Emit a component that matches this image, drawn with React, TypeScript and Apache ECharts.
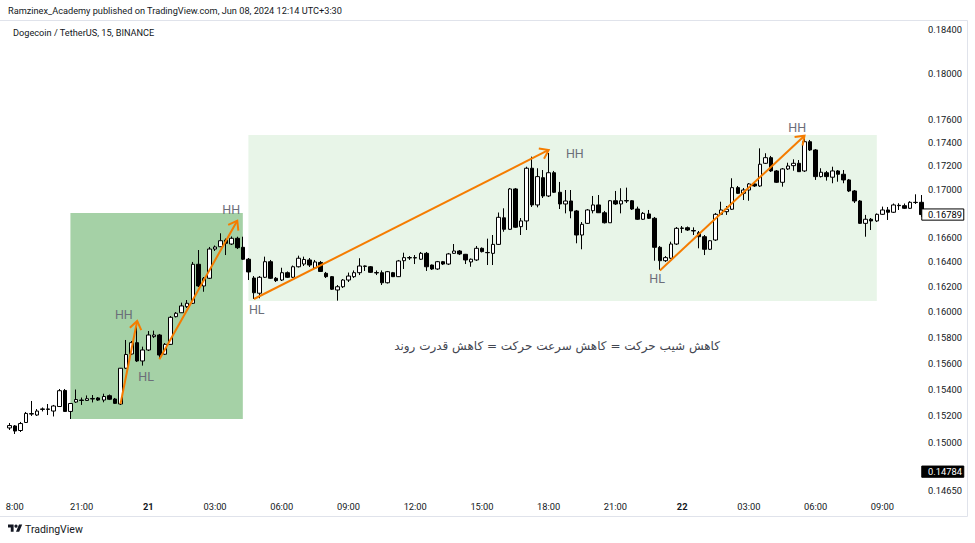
import React, { useEffect, useRef } from "react";
import * as echarts from "echarts";

// ---- data (15m DOGE/USDT candles: open, close, low, high) ----
const candles: number[][] = [
  [0.15107, 0.15125, 0.15092, 0.15144],
  [0.15122, 0.15084, 0.15062, 0.15129],
  [0.15088, 0.1514, 0.15077, 0.15152],
  [0.15148, 0.15216, 0.15144, 0.15227],
  [0.15211, 0.15215, 0.15197, 0.1531],
  [0.15204, 0.15234, 0.15197, 0.15249],
  [0.15246, 0.1525, 0.15231, 0.15261],
  [0.15246, 0.1525, 0.15204, 0.15287],
  [0.15234, 0.15272, 0.15193, 0.1528],
  [0.15268, 0.15388, 0.15265, 0.15401],
  [0.1539, 0.15231, 0.15227, 0.15401],
  [0.15231, 0.15291, 0.15174, 0.15295],
  [0.15302, 0.15321, 0.15295, 0.15397],
  [0.15317, 0.15314, 0.1528, 0.15336],
  [0.15314, 0.15327, 0.1531, 0.15352],
  [0.15325, 0.15329, 0.15299, 0.15355],
  [0.15333, 0.15317, 0.1531, 0.1534],
  [0.15317, 0.15344, 0.153, 0.15365],
  [0.1535, 0.15323, 0.15317, 0.15359],
  [0.15325, 0.15292, 0.15287, 0.15333],
  [0.15287, 0.1556, 0.1528, 0.15562],
  [0.1556, 0.15666, 0.15554, 0.15779],
  [0.1567, 0.15758, 0.15662, 0.15771],
  [0.15758, 0.15616, 0.15608, 0.15915],
  [0.15616, 0.15701, 0.1558, 0.15727],
  [0.15701, 0.15818, 0.15693, 0.15849],
  [0.15805, 0.15818, 0.15794, 0.15852],
  [0.15818, 0.15662, 0.15631, 0.15826],
  [0.15668, 0.15745, 0.15662, 0.15755],
  [0.15745, 0.15957, 0.1574, 0.15967],
  [0.15962, 0.15989, 0.15956, 0.15999],
  [0.15993, 0.16047, 0.15991, 0.16073],
  [0.16041, 0.16068, 0.16031, 0.16094],
  [0.16068, 0.16381, 0.16063, 0.164],
  [0.16381, 0.16206, 0.16198, 0.16497],
  [0.16206, 0.16268, 0.1616, 0.16278],
  [0.16268, 0.16505, 0.16262, 0.16522],
  [0.16505, 0.16522, 0.16489, 0.16534],
  [0.16524, 0.16573, 0.16522, 0.16634],
  [0.16579, 0.16552, 0.16456, 0.16591],
  [0.16546, 0.16593, 0.16538, 0.16608],
  [0.16593, 0.16516, 0.16505, 0.16606],
  [0.16519, 0.16422, 0.16416, 0.16606],
  [0.16422, 0.16319, 0.16254, 0.16432],
  [0.1627, 0.16152, 0.16102, 0.16286],
  [0.16148, 0.16276, 0.16108, 0.16286],
  [0.16276, 0.16402, 0.1627, 0.16443],
  [0.16402, 0.16268, 0.16262, 0.16416],
  [0.16268, 0.16249, 0.16238, 0.16278],
  [0.16254, 0.16313, 0.16246, 0.16353],
  [0.16313, 0.16276, 0.1627, 0.16323],
  [0.16276, 0.16361, 0.1627, 0.16371],
  [0.16361, 0.1643, 0.16355, 0.16451],
  [0.16383, 0.1642, 0.16367, 0.16443],
  [0.16416, 0.16375, 0.16359, 0.16432],
  [0.16351, 0.164, 0.16343, 0.16416],
  [0.16396, 0.16323, 0.16319, 0.16408],
  [0.16308, 0.16281, 0.1627, 0.16319],
  [0.16281, 0.1618, 0.16174, 0.16286],
  [0.16174, 0.162, 0.16089, 0.16214],
  [0.162, 0.16254, 0.1619, 0.16262],
  [0.16254, 0.16286, 0.16238, 0.16314],
  [0.16281, 0.16313, 0.1627, 0.16331],
  [0.16313, 0.16367, 0.16294, 0.1643],
  [0.16364, 0.16367, 0.16327, 0.16371],
  [0.16361, 0.16316, 0.16311, 0.16367],
  [0.16314, 0.16311, 0.16294, 0.16331],
  [0.16313, 0.16232, 0.16214, 0.16331],
  [0.16232, 0.16321, 0.16226, 0.16327],
  [0.16313, 0.16281, 0.16278, 0.16319],
  [0.16281, 0.16408, 0.16278, 0.16416],
  [0.1641, 0.16435, 0.16343, 0.16475],
  [0.16432, 0.16436, 0.16416, 0.16448],
  [0.16435, 0.16432, 0.16383, 0.16456],
  [0.16422, 0.1647, 0.16416, 0.16481],
  [0.1647, 0.16361, 0.16327, 0.16481],
  [0.16375, 0.16343, 0.16335, 0.16379],
  [0.16343, 0.16402, 0.16335, 0.16408],
  [0.16402, 0.16383, 0.16375, 0.16408],
  [0.16383, 0.16465, 0.16375, 0.16473],
  [0.1647, 0.16489, 0.16465, 0.16546],
  [0.16489, 0.16465, 0.16456, 0.16497],
  [0.16462, 0.16416, 0.16383, 0.16465],
  [0.164, 0.16422, 0.16361, 0.16428],
  [0.16416, 0.16511, 0.16408, 0.1653],
  [0.16511, 0.16484, 0.16477, 0.16518],
  [0.16477, 0.16475, 0.16375, 0.1659],
  [0.1647, 0.16543, 0.16375, 0.1662],
  [0.16543, 0.16766, 0.16538, 0.16806],
  [0.16762, 0.16667, 0.16647, 0.16841],
  [0.16667, 0.17003, 0.16661, 0.17011],
  [0.17003, 0.16684, 0.16678, 0.17011],
  [0.16689, 0.16736, 0.1662, 0.1676],
  [0.16736, 0.17178, 0.16661, 0.17191],
  [0.17178, 0.16869, 0.16852, 0.17277],
  [0.16869, 0.17107, 0.16849, 0.17178],
  [0.17098, 0.16944, 0.16927, 0.17163],
  [0.16944, 0.1714, 0.16935, 0.17308],
  [0.1714, 0.16975, 0.16969, 0.17155],
  [0.16975, 0.16877, 0.16835, 0.17062],
  [0.16877, 0.16902, 0.16799, 0.16994],
  [0.16902, 0.16819, 0.16758, 0.16994],
  [0.16819, 0.1662, 0.16552, 0.16827],
  [0.1662, 0.16708, 0.16503, 0.16727],
  [0.16716, 0.16827, 0.16711, 0.16835],
  [0.16821, 0.16869, 0.16799, 0.16944],
  [0.16869, 0.16804, 0.16802, 0.16952],
  [0.16804, 0.16721, 0.16715, 0.16819],
  [0.16721, 0.16904, 0.16719, 0.1691],
  [0.16904, 0.16877, 0.16869, 0.16986],
  [0.16877, 0.16904, 0.16799, 0.17009],
  [0.16902, 0.16906, 0.16885, 0.17014],
  [0.16904, 0.16835, 0.16827, 0.1691],
  [0.16835, 0.1675, 0.16744, 0.16855],
  [0.1675, 0.16799, 0.16744, 0.1681],
  [0.16794, 0.16758, 0.16752, 0.16827],
  [0.16758, 0.16519, 0.1641, 0.16769],
  [0.16519, 0.1641, 0.16335, 0.1653],
  [0.1641, 0.16435, 0.164, 0.16448],
  [0.1643, 0.16546, 0.16424, 0.16565],
  [0.16546, 0.16675, 0.16538, 0.16686],
  [0.16674, 0.16678, 0.16637, 0.16694],
  [0.1668, 0.16661, 0.16653, 0.1669],
  [0.16657, 0.16653, 0.1662, 0.16683],
  [0.16639, 0.16606, 0.16511, 0.16653],
  [0.16606, 0.16503, 0.16456, 0.1662],
  [0.16503, 0.16573, 0.16497, 0.16579],
  [0.16579, 0.16791, 0.16571, 0.16802],
  [0.16791, 0.16827, 0.16786, 0.16896],
  [0.16813, 0.16833, 0.16786, 0.1686],
  [0.16833, 0.17014, 0.16827, 0.17093],
  [0.17014, 0.16966, 0.16961, 0.17028],
  [0.16966, 0.16994, 0.1691, 0.17011],
  [0.16994, 0.17045, 0.16904, 0.17053],
  [0.17045, 0.17028, 0.1702, 0.17053],
  [0.17028, 0.17212, 0.1702, 0.17348],
  [0.1722, 0.17268, 0.17214, 0.17306],
  [0.17268, 0.17155, 0.17146, 0.17283],
  [0.17155, 0.17059, 0.17053, 0.17163],
  [0.17059, 0.17172, 0.17022, 0.1718],
  [0.17172, 0.17197, 0.17163, 0.17225],
  [0.172, 0.1722, 0.17157, 0.17254],
  [0.1722, 0.17149, 0.17146, 0.17248],
  [0.17155, 0.17405, 0.17146, 0.17446],
  [0.17405, 0.17334, 0.17325, 0.1742],
  [0.17334, 0.17107, 0.17079, 0.17342],
  [0.17107, 0.17144, 0.171, 0.17178],
  [0.1714, 0.17107, 0.17073, 0.17155],
  [0.17102, 0.17155, 0.17051, 0.17191],
  [0.17155, 0.17127, 0.17064, 0.17163],
  [0.17127, 0.17079, 0.17051, 0.17163],
  [0.17079, 0.16986, 0.16977, 0.17087],
  [0.16986, 0.16902, 0.16885, 0.16994],
  [0.16902, 0.16716, 0.16711, 0.1691],
  [0.16716, 0.1675, 0.16606, 0.16786],
  [0.1675, 0.16736, 0.16661, 0.1676],
  [0.16736, 0.16791, 0.16727, 0.16798],
  [0.16791, 0.16827, 0.16786, 0.16855],
  [0.16827, 0.16808, 0.16744, 0.16852],
  [0.16808, 0.16869, 0.16802, 0.16881],
  [0.16866, 0.16863, 0.16827, 0.16883],
  [0.16863, 0.16841, 0.16835, 0.16881],
  [0.16841, 0.16891, 0.16835, 0.169],
  [0.16891, 0.16889, 0.16877, 0.16958],
  [0.16891, 0.16789, 0.16769, 0.16952],
];

// time axis: bar index -> label
const timeTicks = [1, 13, 25, 37, 49, 61, 73, 85, 97, 109, 121, 133, 145, 157];
const timeLabels = ["8:00", "21:00", "21", "03:00", "06:00", "09:00", "12:00", "15:00", "18:00", "21:00", "22", "03:00", "06:00", "09:00"];
const dayLabels = ["21", "22"];

// price scale (0.148 and 0.168 sit hidden under the price tags in the reference)
const priceTicks = [0.1465, 0.15, 0.152, 0.154, 0.156, 0.158, 0.16, 0.162, 0.164, 0.166, 0.17, 0.172, 0.174, 0.176, 0.18, 0.184];
const priceTags = [0.16789, 0.14784];
const priceRange = [0.14607, 0.18485];

// drawings: [barFrom, priceFrom, barTo, priceTo]
const zones = [
  [11, 0.16802, 42, 0.15174],
  [43, 0.17463, 156, 0.16086],
];
const trendLines = [
  [20, 0.15287, 23, 0.15928],
  [27, 0.15629, 41, 0.16738],
  [44, 0.16102, 97, 0.17334],
  [117, 0.16331, 143, 0.17457],
];
const swingText = ["HH", "HL", "HH", "HL", "HH", "HL", "HH"];
const swingBar = [20.6, 24.6, 39.9, 44.5, 101.7, 116.5, 141.7];
const swingPrice = [0.15983, 0.155, 0.16827, 0.16015, 0.17308, 0.1627, 0.17532];
const noteText = "کاهش شیب حرکت = کاهش سرعت حرکت = کاهش قدرت روند";

const FONT = "Roboto, 'Noto Sans', sans-serif";
const TEXT = "#131722";
const ORANGE = "#f57c00";
const ZONE_COLORS = ["#a5d1a6", "#e8f5e8"];
const AXIS_FS = 9.3;

echarts.graphic.registerShape(
  "tvlogo",
  echarts.graphic.extendPath("M14 22H7V11H0V4h14v18zM28 22h-8l7.5-18h8L28 22z", {})
);

export default function App() {
  const ref = useRef<HTMLDivElement>(null);

  useEffect(() => {
    document.body.style.margin = "0";
    if (!ref.current) return;
    const chart = echarts.init(ref.current, undefined, { renderer: "svg" });
    const n = candles.length;

    const option: any = {
      animation: false,
      backgroundColor: "#ffffff",
      grid: { left: 6.47, right: 50.93, top: 20, bottom: 47 },
      xAxis: {
        type: "value",
        min: -0.5,
        max: n - 0.5,
        axisLine: { show: false },
        axisTick: { show: false },
        splitLine: { show: false },
        axisLabel: {
          customValues: timeTicks,
          margin: 6,
          color: TEXT,
          fontSize: AXIS_FS,
          fontFamily: FONT,
          hideOverlap: false,
          formatter: (v: number) => {
            const k = timeTicks.indexOf(Math.round(v));
            const t = k >= 0 ? timeLabels[k] : "";
            return dayLabels.includes(t) ? `{b|${t}}` : t;
          },
          rich: { b: { fontWeight: "bold", fontSize: AXIS_FS, fontFamily: FONT, color: TEXT } },
        },
      },
      yAxis: {
        type: "log",
        logBase: 10,
        min: priceRange[0],
        max: priceRange[1],
        position: "right",
        axisLine: { show: false },
        axisTick: { show: false },
        axisLabel: { show: false },
        splitLine: { show: false },
      },
      series: [
        {
          type: "custom",
          name: "zones",
          z: 1,
          clip: false,
          data: zones,
          renderItem: (params: any, api: any) => {
            const a = api.coord([api.value(0), api.value(1)]);
            const b = api.coord([api.value(2), api.value(3)]);
            return {
              type: "rect",
              shape: {
                x: Math.min(a[0], b[0]),
                y: Math.min(a[1], b[1]),
                width: Math.abs(b[0] - a[0]),
                height: Math.abs(b[1] - a[1]),
              },
              style: { fill: ZONE_COLORS[params.dataIndex] },
            };
          },
        },
        {
          type: "candlestick",
          name: "DOGEUSDT",
          z: 2,
          layout: "horizontal",
          barWidth: 4,
          data: candles.map((c, i) => [i, c[0], c[1], c[2], c[3]]),
          itemStyle: {
            color: "#ffffff",
            color0: "#000000",
            borderColor: "#000000",
            borderColor0: "#000000",
            borderWidth: 1,
          },
        },
        {
          type: "custom",
          name: "trend",
          z: 3,
          clip: false,
          data: trendLines,
          renderItem: (params: any, api: any) => {
            const a = api.coord([api.value(0), api.value(1)]);
            const b = api.coord([api.value(2), api.value(3)]);
            const ang = Math.atan2(b[1] - a[1], b[0] - a[0]);
            const L = 10;
            const w = 0.62;
            const w1 = [b[0] - L * Math.cos(ang - w), b[1] - L * Math.sin(ang - w)];
            const w2 = [b[0] - L * Math.cos(ang + w), b[1] - L * Math.sin(ang + w)];
            return {
              type: "group",
              children: [
                {
                  type: "line",
                  shape: { x1: a[0], y1: a[1], x2: b[0], y2: b[1] },
                  style: { stroke: ORANGE, lineWidth: 2 },
                },
                {
                  type: "polyline",
                  shape: { points: [w1, b, w2] },
                  style: { stroke: ORANGE, lineWidth: 2, fill: null },
                },
              ],
            };
          },
        },
        {
          type: "custom",
          name: "swings",
          z: 4,
          clip: false,
          data: swingBar.map((x, i) => [x, swingPrice[i]]),
          renderItem: (params: any, api: any) => {
            const p = api.coord([api.value(0), api.value(1)]);
            return {
              type: "text",
              x: p[0],
              y: p[1],
              style: {
                text: swingText[params.dataIndex],
                fill: "#6b6e79",
                fontSize: 12.5,
                fontFamily: FONT,
                align: "center",
                verticalAlign: "middle",
              },
            };
          },
        },
        {
          type: "custom",
          name: "priceScale",
          z: 4,
          clip: false,
          data: priceTicks.map((v) => [n - 0.5, v]),
          renderItem: (params: any, api: any) => {
            const p = api.coord([api.value(0), api.value(1)]);
            return {
              type: "text",
              x: p[0] + 4,
              y: p[1],
              style: {
                text: priceTicks[params.dataIndex].toFixed(5),
                fill: TEXT,
                fontSize: AXIS_FS,
                fontFamily: FONT,
                align: "left",
                verticalAlign: "middle",
              },
            };
          },
        },
        {
          type: "custom",
          name: "priceTags",
          z: 6,
          clip: false,
          data: priceTags.map((v) => [n - 0.5, v]),
          renderItem: (params: any, api: any) => {
            const p = api.coord([api.value(0), api.value(1)]);
            const dark = params.dataIndex === 1;
            return {
              type: "group",
              children: [
                {
                  type: "rect",
                  shape: { x: p[0] - 2.3, y: p[1] - 5.6, width: 42, height: 11.2 },
                  style: {
                    fill: dark ? "#000000" : "#ffffff",
                    stroke: "#000000",
                    lineWidth: 1,
                  },
                },
                {
                  type: "text",
                  x: p[0] + 4,
                  y: p[1],
                  style: {
                    text: priceTags[params.dataIndex].toFixed(5),
                    fill: dark ? "#ffffff" : "#000000",
                    fontSize: AXIS_FS,
                    fontFamily: FONT,
                    align: "left",
                    verticalAlign: "middle",
                  },
                },
              ],
            };
          },
        },
      ],
      graphic: [
        {
          type: "line",
          shape: { x1: 0, y1: 20.5, x2: 967.5, y2: 20.5 },
          style: { stroke: "#e0e3eb", lineWidth: 1 },
          silent: true,
        },
        {
          type: "line",
          shape: { x1: 967.5, y1: 20.5, x2: 967.5, y2: 516.5 },
          style: { stroke: "#e0e3eb", lineWidth: 1 },
          silent: true,
        },
        {
          type: "line",
          shape: { x1: 0, y1: 516.5, x2: 967.5, y2: 516.5 },
          style: { stroke: "#e0e3eb", lineWidth: 1 },
          silent: true,
        },
        {
          type: "text",
          x: 8,
          y: 10,
          style: {
            text: "Ramzinex_Academy published on TradingView.com, Jun 08, 2024 12:14 UTC+3:30",
            fill: TEXT,
            fontSize: 9.2,
            fontFamily: FONT,
            align: "left",
            verticalAlign: "middle",
          },
        },
        {
          type: "text",
          x: 13,
          y: 32,
          style: {
            text: "Dogecoin / TetherUS, 15, BINANCE",
            fill: TEXT,
            fontSize: 9.2,
            fontFamily: FONT,
            align: "left",
            verticalAlign: "middle",
          },
        },
        {
          type: "text",
          x: 557,
          y: 346,
          style: {
            text: noteText,
            fill: "#434651",
            fontSize: 12,
            fontFamily: "'DejaVu Sans', sans-serif",
            align: "center",
            verticalAlign: "middle",
          },
        },
        {
          type: "tvlogo",
          x: 8,
          y: 523,
          scaleX: 0.4,
          scaleY: 0.4,
          style: { fill: TEXT },
        },
        {
          type: "circle",
          shape: { cx: 16, cy: 526.2, r: 1.6 },
          style: { fill: TEXT },
        },
        {
          type: "text",
          x: 25,
          y: 529,
          style: {
            text: "TradingView",
            fill: TEXT,
            fontSize: 10.5,
            fontFamily: FONT,
            align: "left",
            verticalAlign: "middle",
          },
        },
      ],
    };

    chart.setOption(option);
    return () => chart.dispose();
  }, []);

  return (
    <div
      ref={ref}
      style={{ position: "fixed", left: 0, top: 0, width: 975, height: 543 }}
    />
  );
}
